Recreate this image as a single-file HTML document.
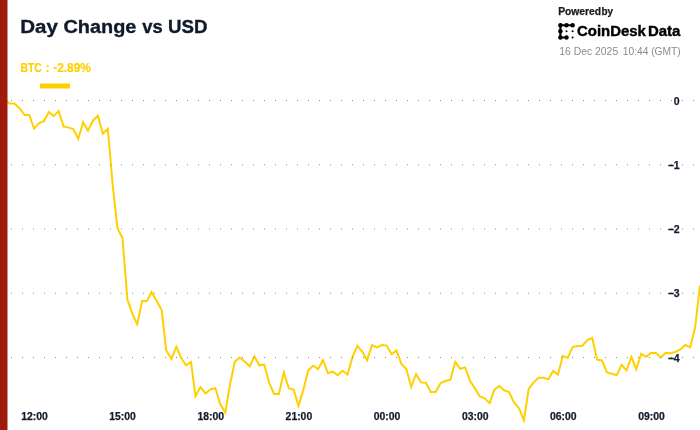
<!DOCTYPE html>
<html><head><meta charset="utf-8"><title>Day Change vs USD</title>
<style>
html,body{margin:0;padding:0;background:#fff;}
body{width:700px;height:430px;overflow:hidden;}
svg{display:block;will-change:transform;}
text{font-family:"Liberation Sans",sans-serif;}
.ax{font-size:10.5px;font-weight:bold;fill:#111c2d;stroke:#111c2d;stroke-width:0.25px;}
.title{font-size:19.2px;font-weight:bold;fill:#0f1a2c;stroke:#0f1a2c;stroke-width:0.35px;}
.leg{font-size:12.5px;font-weight:bold;fill:#ffd000;stroke:#ffd000;stroke-width:0.2px;}
.pb{font-size:10px;font-weight:bold;fill:#1a1a1a;stroke:#1a1a1a;stroke-width:0.25px;}
.cd{font-size:14px;font-weight:bold;fill:#000;stroke:#000;stroke-width:0.4px;}
.dt{font-size:11px;fill:#8c8c8c;}
</style></head><body>
<svg width="700" height="430" viewBox="0 0 700 430">
<rect width="700" height="430" fill="#fff"/>
<polyline points="4.5,99.5 9.3,103.4 14.3,103.4 19.3,107.9 24.6,115 29.3,115 34,128.6 38.9,123.3 43.9,121.1 48.9,112.1 53.7,116 58.7,111.1 63.6,126.4 68.6,127.6 73.3,129 78.3,138.7 83.1,122.2 88,130.7 92.9,120.7 97.9,115.7 102.8,133.8 107.8,128.7 112.7,185 117.4,228 122.5,238.3 127.4,299.6 132.3,313.6 137.2,324.1 142.1,301 147,301 151.6,291.9 156.7,301 161.7,310.1 166.2,350.3 171.4,359.1 176.3,346.8 181.2,358 186.1,365.3 191,361.9 195.5,396.2 200.4,387.1 205.6,393.5 210.5,389.3 215.4,388.2 220.3,404.3 225.3,412.6 230.1,384 234.8,361.8 239.7,357.5 244.9,361.8 249.8,366.3 254.4,356.2 259.3,365.3 264.2,364.6 269.1,382.3 274,394 278.9,394 283.8,372.3 288.7,388.1 293.6,389.5 298.5,405.9 303.4,389.8 308.3,370.2 313.2,365.7 318.1,369 323,360.2 327.9,373.1 332.8,371.7 337.7,375.2 342.6,370.7 347.5,374.6 352.4,357.4 357.3,345.9 362.2,351.5 367.1,360.2 372,345.1 376.9,347.3 381.8,345.1 386.7,345.6 391.6,354.3 396.5,350.4 401.4,364 406.3,369 411.2,386.9 416.1,374 421,382.4 425.9,382.8 430.8,391.9 435.7,391.9 440.6,383.1 445.5,381 450.4,379.6 455.3,362.1 460.2,368.8 465.1,367.4 470,380.7 474.9,388.4 479.8,396.4 484.7,398.4 489.6,403.1 494.5,389.5 499.3,386.1 504.2,390.3 509.1,392.1 514,402.5 518.9,408.1 523.9,420.2 528.7,388.9 533.6,382.3 538.5,377.7 543.4,377.7 548.3,379.4 553.1,371 558,374.6 562.8,355.8 567.7,357.9 572.6,347.1 577.5,346 582.4,345.7 587.3,340.1 592.2,337.9 597.1,359.7 602,360.5 606.9,372.4 611.8,373.8 616.7,375.3 621.6,364.8 626.5,370.4 631.4,356.8 636.3,369.2 641.2,353.8 646.1,356.8 651,352.9 655.9,352.9 660.8,357.5 665.7,352.9 670.6,353.3 675.5,351.9 680.4,349.4 685.3,344.9 690.2,347.3 695.1,327.5 700,285.5" fill="none" stroke="#ffd000" stroke-width="2" stroke-linejoin="miter" stroke-miterlimit="10" stroke-linecap="butt"/>
<line x1="11" x2="700" y1="100.5" y2="100.5" stroke="#8a8a8a" stroke-width="1" stroke-dasharray="1 10"/>
<line x1="11" x2="700" y1="164.75" y2="164.75" stroke="#8a8a8a" stroke-width="1" stroke-dasharray="1 10"/>
<line x1="11" x2="700" y1="229.0" y2="229.0" stroke="#8a8a8a" stroke-width="1" stroke-dasharray="1 10"/>
<line x1="11" x2="700" y1="293.25" y2="293.25" stroke="#8a8a8a" stroke-width="1" stroke-dasharray="1 10"/>
<line x1="11" x2="700" y1="357.5" y2="357.5" stroke="#8a8a8a" stroke-width="1" stroke-dasharray="1 10"/>

<rect x="0" y="0" width="7.5" height="430" fill="#a01b0b"/>
<text y="33.45" class="title"><tspan x="20.3" textLength="37.6" lengthAdjust="spacingAndGlyphs">Day</tspan> <tspan x="63.4" textLength="73" lengthAdjust="spacingAndGlyphs">Change</tspan> <tspan x="142.3" textLength="20.4" lengthAdjust="spacingAndGlyphs">vs</tspan> <tspan x="168.0" textLength="39.4" lengthAdjust="spacingAndGlyphs">USD</tspan></text>
<text y="72" class="leg"><tspan x="20.5" textLength="21.3" lengthAdjust="spacingAndGlyphs">BTC</tspan><tspan x="42.6" textLength="10" lengthAdjust="spacingAndGlyphs"> : </tspan><tspan x="53.2" textLength="37.6" lengthAdjust="spacingAndGlyphs">-2.89%</tspan></text>
<rect x="40" y="83.5" width="30" height="5" fill="#ffd000"/>
<text x="679.7" y="104.65" text-anchor="end" class="ax">0</text>
<text x="679.7" y="168.90" text-anchor="end" class="ax">−1</text>
<text x="679.7" y="233.15" text-anchor="end" class="ax">−2</text>
<text x="679.7" y="297.40" text-anchor="end" class="ax">−3</text>
<text x="679.7" y="361.65" text-anchor="end" class="ax">−4</text>
<text x="21.2" y="420.4" class="ax" textLength="26.6" lengthAdjust="spacingAndGlyphs">12:00</text>
<text x="109.3" y="420.4" class="ax" textLength="26.6" lengthAdjust="spacingAndGlyphs">15:00</text>
<text x="197.5" y="420.4" class="ax" textLength="26.6" lengthAdjust="spacingAndGlyphs">18:00</text>
<text x="285.6" y="420.4" class="ax" textLength="26.6" lengthAdjust="spacingAndGlyphs">21:00</text>
<text x="373.8" y="420.4" class="ax" textLength="26.6" lengthAdjust="spacingAndGlyphs">00:00</text>
<text x="461.9" y="420.4" class="ax" textLength="26.6" lengthAdjust="spacingAndGlyphs">03:00</text>
<text x="550.0" y="420.4" class="ax" textLength="26.6" lengthAdjust="spacingAndGlyphs">06:00</text>
<text x="638.2" y="420.4" class="ax" textLength="26.6" lengthAdjust="spacingAndGlyphs">09:00</text>

<text y="14.7" class="pb"><tspan x="558.2" textLength="42.9" lengthAdjust="spacingAndGlyphs">Powered</tspan> <tspan x="601.4" textLength="11.6" lengthAdjust="spacingAndGlyphs">by</tspan></text>
<g fill="#000" stroke="#000" transform="translate(0 0.25)">
<path d="M572.6 25 H560.4 V37.2 H566.5" fill="none" stroke-width="2.1" stroke-linejoin="round" stroke-linecap="round"/>
<circle cx="560.4" cy="25" r="2.25" stroke="none"/><circle cx="566.5" cy="25" r="2.25" stroke="none"/><circle cx="572.6" cy="25" r="2.25" stroke="none"/>
<circle cx="560.4" cy="31.1" r="2.25" stroke="none"/><circle cx="560.4" cy="37.2" r="2.25" stroke="none"/><circle cx="566.5" cy="37.2" r="2.25" stroke="none"/>
<circle cx="566.5" cy="31.1" r="1.0" stroke="none"/><circle cx="572.6" cy="31.1" r="1.0" stroke="none"/><circle cx="572.6" cy="37.2" r="1.0" stroke="none"/>
</g>
<text y="36.1" class="cd"><tspan x="577.0" textLength="68.8" lengthAdjust="spacingAndGlyphs">CoinDesk</tspan><tspan x="647.9" textLength="32.4" lengthAdjust="spacingAndGlyphs">Data</tspan></text>
<text y="55.1" class="dt"><tspan x="559.2" textLength="59.0" lengthAdjust="spacingAndGlyphs">16 Dec 2025</tspan> <tspan x="622.8" textLength="57.8" lengthAdjust="spacingAndGlyphs">10:44 (GMT)</tspan></text>
</svg>
</body></html>
